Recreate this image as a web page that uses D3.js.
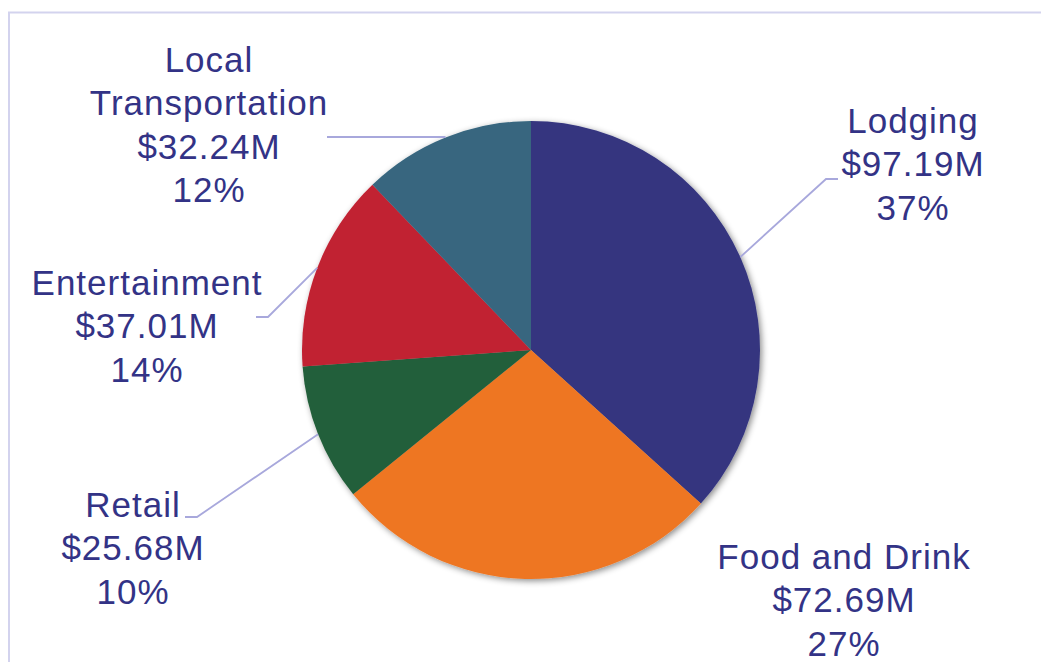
<!DOCTYPE html>
<html>
<head>
<meta charset="utf-8">
<script src="https://cdn.jsdelivr.net/npm/d3@7"></script>
<style>
  html, body { margin: 0; padding: 0; background: #ffffff; }
  svg { display: block; }
</style>
</head>
<body>
<svg id="chart" width="1041" height="662"></svg>
<script>
// ---- data ----
const categories = ["Lodging", "Food and Drink", "Retail", "Entertainment", "Local Transportation"];
const values = [97.19, 72.69, 25.68, 37.01, 32.24];
const valueLabels = ["$97.19M", "$72.69M", "$25.68M", "$37.01M", "$32.24M"];
const percentLabels = ["37%", "27%", "10%", "14%", "12%"];
const colors = ["#35367f", "#ee7623", "#245f3a", "#c12032", "#37667f"];

// ---- layout (not data) ----
const W = 1041, H = 662;
const cx = 531, cy = 350, R = 229;
const lineH = 43.3;
const labelLayout = [
  { x: 913, y: 133, lines: ["Lodging"], elbow: [826, 179], end: [838, 179] },
  { x: 844, y: 569, lines: ["Food and Drink"], elbow: null, end: null },
  { x: 133, y: 517, lines: ["Retail"], elbow: [197, 517], end: [185, 517] },
  { x: 147, y: 295, lines: ["Entertainment"], elbow: [268, 317], end: [256, 317] },
  { x: 209, y: 72, lines: ["Local", "Transportation"], elbow: null, end: [327, 137] }
];

const svg = d3.select("#chart");

// frame
svg.append("rect")
  .attr("x", 9).attr("y", 12.5)
  .attr("width", 1100).attr("height", 800)
  .attr("fill", "none")
  .attr("stroke", "#d3d3ee")
  .attr("stroke-width", 2);

const defs = svg.append("defs");
const f = defs.append("filter").attr("id", "shadow")
  .attr("x", "-20%").attr("y", "-20%").attr("width", "140%").attr("height", "140%");
f.append("feDropShadow")
  .attr("dx", 2).attr("dy", 2).attr("stdDeviation", 3)
  .attr("flood-color", "#000").attr("flood-opacity", 0.45);

const pie = d3.pie().sort(null).value(d => d)(values);
const arc = d3.arc().innerRadius(0).outerRadius(R);

const g = svg.append("g").attr("transform", `translate(${cx},${cy})`);
g.append("g").attr("filter", "url(#shadow)")
  .selectAll("path")
  .data(pie)
  .join("path")
  .attr("d", arc)
  .attr("fill", (d, i) => colors[i]);

// leader lines
const lineColor = "#a8a8dc";
pie.forEach((d, i) => {
  const L = labelLayout[i];
  if (!L.end) return;
  const a = (d.startAngle + d.endAngle) / 2;
  const p0 = [cx + R * Math.sin(a), cy - R * Math.cos(a)];
  const pts = [p0];
  if (L.elbow) pts.push(L.elbow);
  pts.push(L.end);
  if (!L.elbow) pts[0] = [p0[0], L.end[1]];
  svg.append("path")
    .attr("d", d3.line()(pts))
    .attr("fill", "none")
    .attr("stroke", lineColor)
    .attr("stroke-width", 1.8);
});

// labels
const txtColor = "#333386";
categories.forEach((c, i) => {
  const L = labelLayout[i];
  const lines = [...L.lines, valueLabels[i], percentLabels[i]];
  const t = svg.append("text")
    .attr("text-anchor", "middle")
    .attr("font-family", "Liberation Sans, Arial, sans-serif")
    .attr("font-size", 35)
    .attr("letter-spacing", 1)
    .attr("fill", txtColor);
  lines.forEach((ln, k) => {
    t.append("tspan").attr("x", L.x).attr("y", L.y + k * lineH).text(ln);
  });
});
</script>
</body>
</html>
